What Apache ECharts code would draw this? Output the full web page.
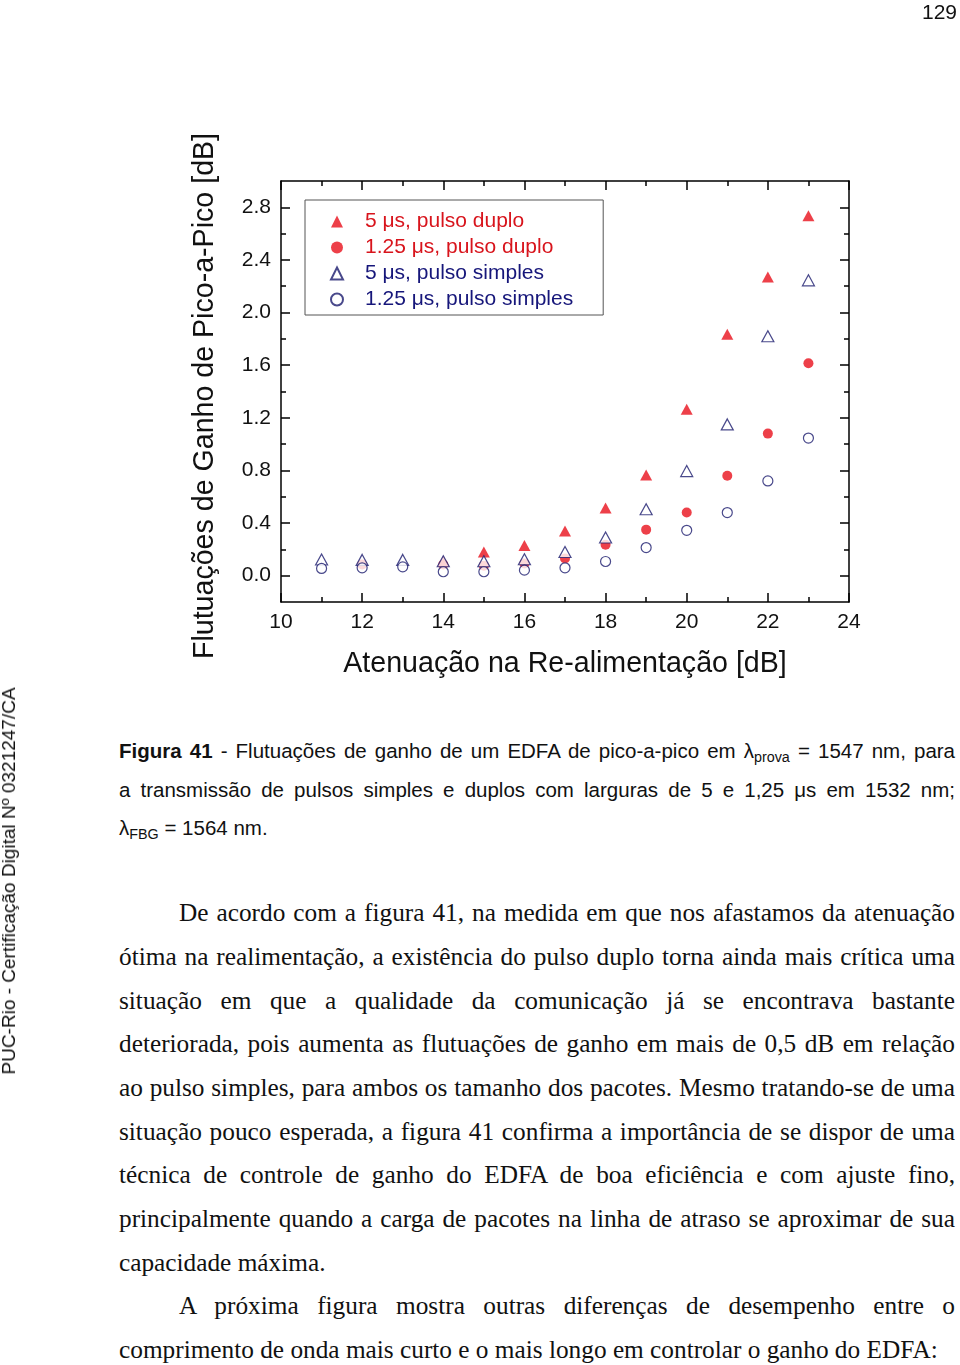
<!DOCTYPE html>
<html>
<head>
<meta charset="utf-8">
<script src="https://cdn.jsdelivr.net/npm/echarts@6/dist/echarts.min.js"></script>
<style>
html,body{margin:0;padding:0;background:#fff;width:960px;height:1365px;overflow:hidden;}
#chart{position:absolute;left:0;top:0;width:960px;height:700px;}
.pg{position:absolute;right:3px;top:0px;font:21px "Liberation Sans";color:#111;}
.side{position:absolute;left:9px;top:881px;transform:translate(-50%,-50%) rotate(-90deg);font:19px "Liberation Sans";white-space:nowrap;color:#111;}
.cap{position:absolute;left:119px;width:836px;font:20.5px "Liberation Sans";color:#111;height:38px;line-height:38px;}
.bd{position:absolute;left:119px;width:836px;font:25.3px "Liberation Serif";color:#111;height:44px;line-height:44px;}
.j{text-align:justify;text-align-last:justify;}
.ind{text-indent:60px;}
sub{font-size:0.7em;vertical-align:-0.3em;line-height:0;}
</style>
</head>
<body>
<div id="chart"></div>
<div class="pg">129</div>
<div class="side">PUC-Rio - Certificação Digital Nº 0321247/CA</div>

<div class="cap j" style="top:732px"><b>Figura 41</b> - Flutuações de ganho de um EDFA de pico-a-pico em λ<sub>prova</sub> = 1547 nm, para</div>
<div class="cap j" style="top:771px">a transmissão de pulsos simples e duplos com larguras de 5 e 1,25 μs em 1532 nm;</div>
<div class="cap" style="top:809px">λ<sub>FBG</sub> = 1564 nm.</div>

<div class="bd j ind" style="top:890px">De acordo com a figura 41, na medida em que nos afastamos da atenuação</div>
<div class="bd j" style="top:934px">ótima na realimentação, a existência do pulso duplo torna ainda mais crítica uma</div>
<div class="bd j" style="top:978px">situação em que a qualidade da comunicação já se encontrava bastante</div>
<div class="bd j" style="top:1021px">deteriorada, pois aumenta as flutuações de ganho em mais de 0,5 dB em relação</div>
<div class="bd j" style="top:1065px">ao pulso simples, para ambos os tamanho dos pacotes. Mesmo tratando-se de uma</div>
<div class="bd j" style="top:1109px">situação pouco esperada, a figura 41 confirma a importância de se dispor de uma</div>
<div class="bd j" style="top:1152px">técnica de controle de ganho do EDFA de boa eficiência e com ajuste fino,</div>
<div class="bd j" style="top:1196px">principalmente quando a carga de pacotes na linha de atraso se aproximar de sua</div>
<div class="bd" style="top:1240px">capacidade máxima.</div>
<div class="bd j ind" style="top:1283px">A próxima figura mostra outras diferenças de desempenho entre o</div>
<div class="bd" style="top:1327px">comprimento de onda mais curto e o mais longo em controlar o ganho do EDFA:</div>

<script>
// ---- data ----
const xValues = [11, 12, 13, 14, 15, 16, 17, 18, 19, 20, 21, 22, 23];
const duplo5us = [null, null, null, 0.11, 0.18, 0.23, 0.34, 0.515, 0.765, 1.265, 1.835, 2.27, 2.735];
const duplo125us = [null, 0.085, null, 0.085, 0.075, 0.093, 0.13, 0.235, 0.35, 0.48, 0.76, 1.08, 1.615];
const simples5us = [0.123, 0.12, 0.12, 0.11, 0.11, 0.125, 0.18, 0.29, 0.505, 0.795, 1.15, 1.82, 2.245];
const simples125us = [0.055, 0.06, 0.067, 0.03, 0.03, 0.042, 0.06, 0.108, 0.214, 0.345, 0.48, 0.72, 1.046];
const seriesNames = ['5 μs, pulso duplo', '1.25 μs, pulso duplo', '5 μs, pulso simples', '1.25 μs, pulso simples'];
const yTickValues = [0, 0.4, 0.8, 1.2, 1.6, 2.0, 2.4, 2.8];
const yMinorTickValues = [0.2, 0.6, 1.0, 1.4, 1.8, 2.2, 2.6];
const xTitle = 'Atenuação na Re-alimentação [dB]';
const yTitle = 'Flutuações de Ganho de Pico-a-Pico [dB]';

const RED = '#e8101c';
const NAVY = '#1c1c6e';
const FONT = 'Liberation Sans';

function pairs(vals) {
  const out = [];
  xValues.forEach((x, i) => { if (vals[i] != null) out.push([x, vals[i]]); });
  return out;
}

const axisLineStyle = { color: '#000', width: 1.5 };
function xAx(pos, labels) {
  return {
    type: 'value', position: pos, min: 10, max: 24, interval: 2,
    axisLine: { show: true, onZero: false, lineStyle: axisLineStyle },
    axisTick: { show: true, inside: true, length: 9, lineStyle: axisLineStyle },
    minorTick: { show: true, splitNumber: 2, length: 5, lineStyle: axisLineStyle },
    splitLine: { show: false }, minorSplitLine: { show: false },
    axisLabel: { show: labels, fontSize: 21, fontFamily: FONT, color: '#111', margin: 10 },
    name: labels ? xTitle : '', nameLocation: 'middle', nameGap: 48,
    nameTextStyle: { fontSize: 28.6, fontFamily: FONT, color: '#111' }
  };
}
function yAx(pos, labels, major) {
  return {
    type: 'value', position: pos, min: -0.2, max: 3.0,
    axisLine: { show: major, onZero: false, lineStyle: axisLineStyle },
    axisTick: { show: true, inside: true, length: major ? 9 : 5, lineStyle: axisLineStyle,
      customValues: major ? yTickValues : yMinorTickValues },
    splitLine: { show: false },
    axisLabel: { show: labels, fontSize: 21, fontFamily: FONT, color: '#111', margin: 10,
      customValues: yTickValues, formatter: v => v.toFixed(1) }
  };
}

const chart = echarts.init(document.getElementById('chart'), null, { renderer: 'canvas' });
chart.setOption({
  animation: false,
  backgroundColor: '#fff',
  grid: { left: 281, right: 111, top: 181, bottom: 98, containLabel: false },
  xAxis: [xAx('bottom', true), xAx('top', false)],
  yAxis: [yAx('left', true, true), yAx('right', false, true), yAx('left', false, false), yAx('right', false, false)],
  legend: {
    orient: 'vertical', left: 305, top: 200,
    itemWidth: 12, itemHeight: 12, itemGap: 5,
    padding: [11, 30, 5, 25],
    borderColor: '#555', borderWidth: 1, backgroundColor: '#fff',
    selectedMode: false,
    textStyle: { fontSize: 21, fontFamily: FONT, lineHeight: 21, padding: [0, 0, 0, 17] },
    data: [
      { name: seriesNames[0], textStyle: { color: '#d8141c' } },
      { name: seriesNames[1], textStyle: { color: '#d8141c' } },
      { name: seriesNames[2], textStyle: { color: '#16167a' } },
      { name: seriesNames[3], textStyle: { color: '#16167a' } }
    ]
  },
  graphic: [{
    type: 'text', x: 205, y: 396, rotation: Math.PI / 2,
    style: { text: yTitle, font: '28.6px "Liberation Sans"', fill: '#111', align: 'center', verticalAlign: 'middle' }
  }],
  series: [
    { name: seriesNames[0], type: 'scatter', data: pairs(duplo5us), symbol: 'triangle', symbolSize: [12, 11],
      itemStyle: { color: RED } },
    { name: seriesNames[1], type: 'scatter', data: pairs(duplo125us), symbol: 'circle', symbolSize: 10,
      itemStyle: { color: RED } },
    { name: seriesNames[2], type: 'scatter', data: pairs(simples5us), symbol: 'triangle', symbolSize: [12, 11],
      itemStyle: { color: '#fff', borderColor: NAVY, borderWidth: 1.2 } },
    { name: seriesNames[3], type: 'scatter', data: pairs(simples125us), symbol: 'circle', symbolSize: 10,
      itemStyle: { color: '#fff', borderColor: NAVY, borderWidth: 1.2 } }
  ]
});
</script>
</body>
</html>
